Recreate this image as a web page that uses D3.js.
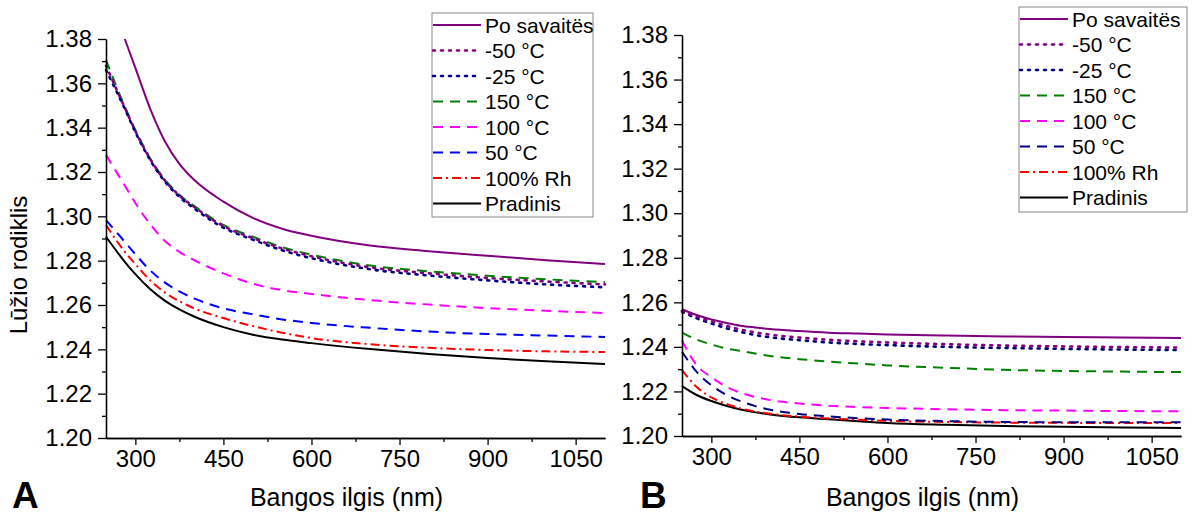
<!DOCTYPE html>
<html lang="lt">
<head>
<meta charset="UTF-8" />
<title>Lūžio rodiklis</title>
<style>
  body { margin: 0; background: #fff; }
  svg { display: block; font-family: "Liberation Sans", Arial, sans-serif; }
  .axis path, .axis line { stroke: #000; stroke-width: 1.3; }
  .axis text { font-size: 24px; fill: #000; }
  .legend text { font-size: 21px; fill: #000; }
</style>
</head>
<body>
<svg width="1194" height="517"></svg>
<script src="https://cdn.jsdelivr.net/npm/d3@7"></script>
<script>
// ---- data ----
const seriesNames = ["Po savaitës", "-50 °C", "-25 °C", "150 °C", "100 °C", "50 °C", "100% Rh", "Pradinis"];

// panel A
const wavelengthsA = [250, 282, 300, 325, 350, 375, 400, 450, 500, 550, 600, 700, 800, 900, 1000, 1100];
const poSavaitesA = [null, 1.380, 1.367, 1.3487, 1.334, 1.3237, 1.3165, 1.3066, 1.2993, 1.2944, 1.2912, 1.2868, 1.2843, 1.2822, 1.2802, 1.2785];
const minus50A   = [1.368, 1.349, 1.3385, 1.326, 1.3163, 1.3094, 1.3043, 1.2956, 1.2902, 1.2855, 1.2820, 1.2770, 1.2743, 1.2722, 1.2706, 1.2693];
const minus25A   = [1.366, 1.3485, 1.338, 1.3255, 1.3158, 1.3088, 1.3036, 1.2949, 1.2895, 1.2847, 1.2811, 1.2761, 1.2733, 1.2711, 1.2693, 1.2680];
const t150A      = [1.3705, 1.3495, 1.339, 1.3262, 1.3166, 1.3097, 1.3047, 1.2961, 1.2908, 1.2861, 1.2827, 1.2778, 1.2752, 1.2732, 1.2716, 1.2703];
const t100A      = [1.3277, 1.3139, 1.306, 1.2965, 1.289, 1.284, 1.2803, 1.2743, 1.2696, 1.2667, 1.2650, 1.2622, 1.2602, 1.2586, 1.2574, 1.2564];
const t50A       = [1.2983, 1.2885, 1.2829, 1.2757, 1.2702, 1.2661, 1.2630, 1.2585, 1.2558, 1.2535, 1.2519, 1.2497, 1.2480, 1.2469, 1.2462, 1.2456];
const rh100A     = [1.2961, 1.2840, 1.2784, 1.2712, 1.2657, 1.2617, 1.2585, 1.2541, 1.2505, 1.2475, 1.2451, 1.2423, 1.2407, 1.2397, 1.2391, 1.2388];
const pradinisA  = [1.2908, 1.2795, 1.2739, 1.2672, 1.2620, 1.2580, 1.2548, 1.2500, 1.2466, 1.2444, 1.2428, 1.2401, 1.2379, 1.2361, 1.2346, 1.2334];

// panel B
const wavelengthsB = [250, 275, 300, 325, 350, 375, 400, 450, 500, 550, 600, 700, 800, 900, 1000, 1100];
const poSavaitesB = [1.2569, 1.2543, 1.2523, 1.2508, 1.2495, 1.2487, 1.2480, 1.2471, 1.2464, 1.2460, 1.2456, 1.2451, 1.2447, 1.2444, 1.2442, 1.2440];
const minus50B   = [1.2562, 1.2535, 1.2515, 1.2495, 1.2478, 1.2465, 1.2455, 1.2442, 1.2432, 1.2425, 1.2420, 1.2412, 1.2406, 1.2402, 1.2399, 1.2397];
const minus25B   = [1.2558, 1.2528, 1.2505, 1.2484, 1.2467, 1.2453, 1.2443, 1.2430, 1.2420, 1.2413, 1.2408, 1.2400, 1.2395, 1.2391, 1.2388, 1.2386];
const t150B      = [1.2464, 1.2433, 1.2411, 1.2393, 1.2382, 1.2370, 1.2359, 1.2345, 1.2334, 1.2325, 1.2317, 1.2306, 1.2297, 1.2292, 1.2289, 1.2287];
const t100B      = [1.2428, 1.2318, 1.2264, 1.2222, 1.2194, 1.2175, 1.2161, 1.2146, 1.2136, 1.2130, 1.2126, 1.2120, 1.2116, 1.2114, 1.2112, 1.2111];
const t50B       = [1.2378, 1.2288, 1.2228, 1.2185, 1.2156, 1.2134, 1.2118, 1.2099, 1.2088, 1.2080, 1.2074, 1.2067, 1.2063, 1.2062, 1.2062, 1.2062];
const rh100B     = [1.2296, 1.2220, 1.2173, 1.2145, 1.2124, 1.2110, 1.2100, 1.2087, 1.2079, 1.2073, 1.2068, 1.2063, 1.2060, 1.2059, 1.2058, 1.2058];
const pradinisB  = [1.2224, 1.2184, 1.2157, 1.2136, 1.2119, 1.2106, 1.2097, 1.2084, 1.2075, 1.2066, 1.2058, 1.2050, 1.2045, 1.2041, 1.2038, 1.2036];

const xTicks = [300, 450, 600, 750, 900, 1050];
const xMinor = [375, 525, 675, 825, 975];
const yTicks = [1.20, 1.22, 1.24, 1.26, 1.28, 1.30, 1.32, 1.34, 1.36, 1.38];
const yMinor = [1.21, 1.23, 1.25, 1.27, 1.29, 1.31, 1.33, 1.35, 1.37];

// ---- styles ----
const DOT = "2,6", DASH = "10,7", DASHDOT = "9,4,2,4";
const stylesA = [
  { color: "#800080", dash: null },
  { color: "#800080", dash: DOT },
  { color: "#000080", dash: DOT },
  { color: "#008000", dash: DASH },
  { color: "#ff00ff", dash: DASH },
  { color: "#0000ff", dash: DASH },
  { color: "#ff0000", dash: DASHDOT },
  { color: "#000000", dash: null }
];
const stylesB = stylesA.map((s, i) => (i === 5 ? { color: "#000080", dash: DASH } : s));

const svg = d3.select("svg");

function panel(p) {
  const x = d3.scaleLinear().domain([250, 1100]).range([p.left, p.right]);
  const y = d3.scaleLinear().domain([1.20, 1.38]).range([p.bottom, p.top]);
  const g = svg.append("g");

  const line = d3.line()
    .defined(d => d[1] != null)
    .x(d => x(d[0]))
    .y(d => y(d[1]))
    .curve(d3.curveMonotoneX);

  const series = p.values.map((vals, i) => ({
    name: seriesNames[i],
    style: p.styles[i],
    pts: p.wl.map((w, j) => [w, vals[j]])
  }));

  // curves, last legend entry drawn first
  g.selectAll("path.curve")
    .data(series.slice().reverse())
    .join("path")
    .attr("class", "curve")
    .attr("d", d => line(d.pts))
    .attr("fill", "none")
    .attr("stroke", d => d.style.color)
    .attr("stroke-width", d => (d.style.dash === DOT ? 2.6 : 2))
    .attr("stroke-linecap", d => (d.style.dash === DOT ? "round" : "butt"))
    .attr("stroke-dasharray", d => d.style.dash);

  // axes
  g.append("g").attr("class", "axis")
    .attr("transform", `translate(0,${p.bottom})`)
    .call(d3.axisBottom(x).tickValues(xTicks).tickSize(7).tickSizeOuter(0).tickPadding(5).tickFormat(d3.format("d")));
  g.append("g").attr("class", "axis")
    .attr("transform", `translate(0,${p.bottom})`)
    .call(d3.axisBottom(x).tickValues(xMinor).tickSize(4).tickSizeOuter(0).tickFormat(""));
  g.append("g").attr("class", "axis")
    .attr("transform", `translate(${p.left},0)`)
    .call(d3.axisLeft(y).tickValues(yTicks).tickSize(8).tickSizeOuter(0).tickPadding(6).tickFormat(d3.format(".2f")));
  g.append("g").attr("class", "axis")
    .attr("transform", `translate(${p.left},0)`)
    .call(d3.axisLeft(y).tickValues(yMinor).tickSize(4).tickSizeOuter(0).tickFormat(""));
  g.selectAll(".axis .domain").attr("stroke-width", 1.6);

  // x title
  g.append("text")
    .attr("x", (p.left + p.right) / 2 - 9)
    .attr("y", 506)
    .attr("text-anchor", "middle")
    .attr("font-size", 25)
    .text("Bangos ilgis (nm)");

  // panel letter
  g.append("text")
    .attr("x", p.letterX)
    .attr("y", 508)
    .attr("font-size", 37)
    .attr("font-weight", "bold")
    .text(p.letter);

  // legend
  const lg = g.append("g").attr("class", "legend");
  lg.append("rect")
    .attr("x", p.legX).attr("y", p.legY)
    .attr("width", p.legW).attr("height", p.legH)
    .attr("fill", "#fff").attr("stroke", "#888").attr("stroke-width", 1);
  const row = lg.selectAll("g.row").data(series).join("g")
    .attr("class", "row")
    .attr("transform", (d, i) => `translate(${p.legX},${p.legY + 12 + i * 25.5})`);
  row.append("line")
    .attr("x1", 1).attr("x2", 49)
    .attr("stroke", d => d.style.color)
    .attr("stroke-width", d => (d.style.dash === DOT ? 2.6 : 2))
    .attr("stroke-linecap", d => (d.style.dash === DOT ? "round" : "butt"))
    .attr("stroke-dasharray", d => d.style.dash);
  row.append("text")
    .attr("x", 53).attr("y", 7.5)
    .text(d => d.name);
}

panel({
  left: 106, right: 605, top: 39, bottom: 438,
  wl: wavelengthsA,
  values: [poSavaitesA, minus50A, minus25A, t150A, t100A, t50A, rh100A, pradinisA],
  styles: stylesA,
  letter: "A", letterX: 12,
  legX: 432, legY: 13, legW: 161, legH: 204
});

panel({
  left: 682, right: 1181, top: 35, bottom: 436,
  wl: wavelengthsB,
  values: [poSavaitesB, minus50B, minus25B, t150B, t100B, t50B, rh100B, pradinisB],
  styles: stylesB,
  letter: "B", letterX: 640,
  legX: 1019, legY: 7, legW: 168, legH: 205
});

// y title (left panel only)
svg.append("text")
  .attr("transform", "translate(27,265) rotate(-90)")
  .attr("text-anchor", "middle")
  .attr("font-size", 24)
  .text("Lūžio rodiklis");
</script>
</body>
</html>
